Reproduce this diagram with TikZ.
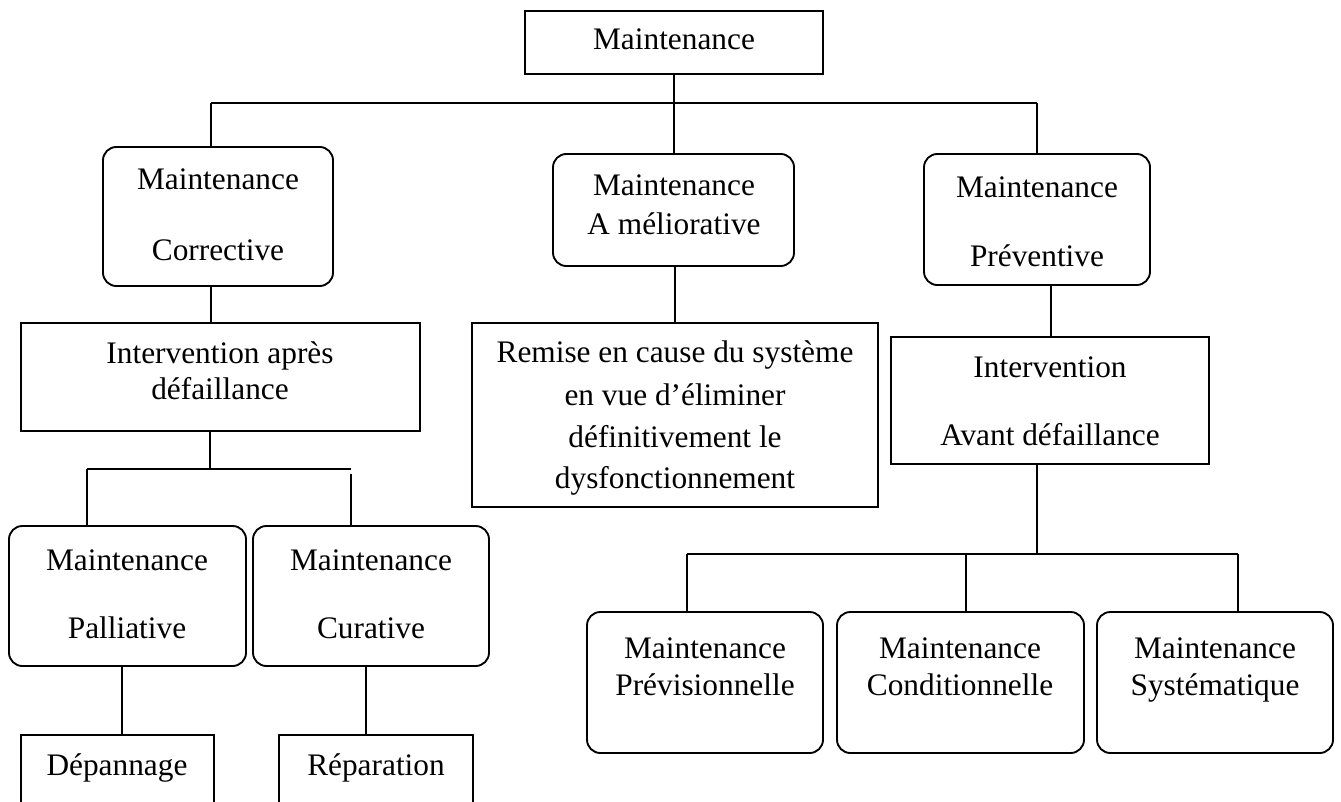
\documentclass[tikz,border=0pt]{standalone}
\usepackage{fontspec}
\setmainfont{Liberation Serif}
\newcommand{\mkbox}[6]{\node[#2, minimum width={(#5-#3)*0.75pt}, minimum height={(#6-#4)*0.75pt}] (#1) at ({(#3+#5)/2},{(#4+#6)/2}) {};}
\begin{document}
\begin{tikzpicture}[x=0.75pt,y=-0.75pt,
  sqbox/.style={draw=black, line width=1.4pt, rectangle, inner sep=0pt},
  rbox/.style={draw=black, line width=1.4pt, rectangle, rounded corners=10pt, inner sep=0pt},
  txt/.style={anchor=base, inner sep=0pt, font=\fontsize{23.5}{28}\selectfont},
  conn/.style={draw=black, line width=1.4pt}]
\useasboundingbox (0,0) rectangle (1341,802);
\clip (0,0) rectangle (1341,802);
% boxes
\mkbox{top}{sqbox}{525}{11}{823}{74}
\mkbox{corr}{rbox}{103}{147}{333}{286}
\mkbox{amel}{rbox}{553}{154}{794}{266}
\mkbox{prev}{rbox}{924}{154}{1150}{285}
\mkbox{apres}{sqbox}{21}{323}{420}{431}
\mkbox{remise}{sqbox}{472}{323}{878}{507}
\mkbox{avant}{sqbox}{891}{337}{1209}{464}
\mkbox{pall}{rbox}{9}{526}{246}{666}
\mkbox{cura}{rbox}{253}{526}{489}{666}
\mkbox{depan}{sqbox}{21}{735}{214}{840}
\mkbox{repar}{sqbox}{279}{735}{473}{840}
\mkbox{previ}{rbox}{587}{612}{823}{753}
\mkbox{cond}{rbox}{837}{612}{1084}{753}
\mkbox{syst}{rbox}{1097}{612}{1333}{753}
% texts
\node[txt] (t1) at (674,50) {Maintenance};
\node[txt] (t2a) at (218,190) {Maintenance};
\node[txt] (t2b) at (218,261) {Corrective};
\node[txt] (t3a) at (674,196) {Maintenance};
\node[txt] (t3b) at (674,234) {A méliorative};
\node[txt] (t4a) at (1037,198) {Maintenance};
\node[txt] (t4b) at (1037,267) {Préventive};
\node[txt] (t5a) at (220,363) {Intervention après};
\node[txt] (t5b) at (220,399) {défaillance};
\node[txt] (t6a) at (675,362) {Remise en cause du système};
\node[txt] (t6b) at (675,405) {en vue d’éliminer};
\node[txt] (t6c) at (675,447) {définitivement le};
\node[txt] (t6d) at (675,488) {dysfonctionnement};
\node[txt] (t7a) at (1050,377) {Intervention};
\node[txt] (t7b) at (1050,445) {Avant défaillance};
\node[txt] (t8a) at (127,570) {Maintenance};
\node[txt] (t8b) at (127,638) {Palliative};
\node[txt] (t9a) at (371,570) {Maintenance};
\node[txt] (t9b) at (371,638) {Curative};
\node[txt] (t10) at (117,775) {Dépannage};
\node[txt] (t11) at (376,775) {Réparation};
\node[txt] (t12a) at (705,658) {Maintenance};
\node[txt] (t12b) at (705,695) {Prévisionnelle};
\node[txt] (t13a) at (960,658) {Maintenance};
\node[txt] (t13b) at (960,695) {Conditionnelle};
\node[txt] (t14a) at (1215,658) {Maintenance};
\node[txt] (t14b) at (1215,695) {Systématique};
% bus coordinates
\coordinate (b1) at (674,103);
\coordinate (b1l) at (211,103);
\coordinate (b1r) at (1037,103);
\coordinate (b2) at (210,469);
\coordinate (b2l) at (87,469);
\coordinate (b2r) at (351,469);
\coordinate (b3) at (1037,554);
\coordinate (b3l) at (687,554);
\coordinate (b3m) at (966,554);
\coordinate (b3r) at (1238,554);
% connectors
\draw[conn] (top.south -| b1) -- (b1);
\draw[conn] (b1l) -- (b1r);
\draw[conn] (b1l) -- (corr.north -| b1l);
\draw[conn] (b1) -- (amel.north -| b1);
\draw[conn] (b1r) -- (prev.north -| b1r);
\draw[conn] (corr.south -| b1l) -- (apres.north -| b1l);
\draw[conn] (apres.south -| b2) -- (b2);
\draw[conn] (b2l) -- (b2r);
\draw[conn] (b2l) -- (pall.north -| b2l);
\draw[conn] ([yshift=-4pt]b2r) -- (cura.north -| b2r);
\draw[conn] (pall.south -| 122,0) -- (depan.north -| 122,0);
\draw[conn] (cura.south -| 366,0) -- (repar.north -| 366,0);
\draw[conn] (amel.south -| 675,0) -- (remise.north -| 675,0);
\draw[conn] (prev.south -| 1051,0) -- (avant.north -| 1051,0);
\draw[conn] (avant.south -| b3) -- (b3);
\draw[conn] (b3l) -- (b3r);
\draw[conn] (b3l) -- (previ.north -| b3l);
\draw[conn] (b3m) -- (cond.north -| b3m);
\draw[conn] (b3r) -- (syst.north -| b3r);
\end{tikzpicture}
\end{document}
